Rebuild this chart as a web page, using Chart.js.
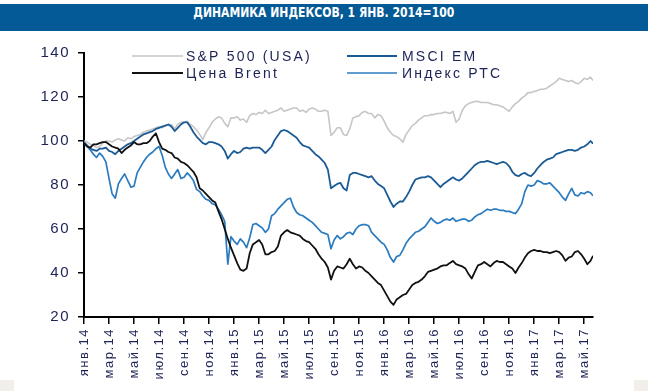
<!DOCTYPE html>
<html>
<head>
<meta charset="utf-8">
<script src="https://cdn.jsdelivr.net/npm/chart.js@4.4.1/dist/chart.umd.min.js"></script>
<style>
  body { margin: 0; background: #fff; width: 648px; height: 391px; overflow: hidden; position: relative; }
  #chart { position: absolute; left: 0; top: 0; }
  #title {
    position: absolute; left: 0; top: 4px; width: 648px; height: 27px;
    background: #035a96; color: #fff; text-align: center; line-height: 27px;
    font: bold 14px "Liberation Sans Narrow", "DejaVu Sans Condensed", sans-serif;
  }
  #title span { display: inline-block; transform: scaleX(0.86); }
  .corner { position: absolute; bottom: 0; width: 14px; height: 11px; background: #f2efeb; }
</style>
</head>
<body>
<canvas id="chart" width="648" height="391"></canvas>
<div id="title"><span>ДИНАМИКА ИНДЕКСОВ, 1 ЯНВ. 2014=100</span></div>
<div class="corner" style="left:0"></div>
<div class="corner" style="right:0"></div>
<script>
// months since 1 Jan 2014
var months = [
  0, 0.25, 0.5, 0.75, 1, 1.25, 1.5, 1.75,
  2, 2.25, 2.5, 2.75, 3, 3.25, 3.5, 3.75,
  4, 4.25, 4.5, 4.75, 5, 5.25, 5.5, 5.75,
  6, 6.25, 6.5, 6.75, 7, 7.25, 7.5, 7.75,
  8, 8.25, 8.5, 8.75, 9, 9.25, 9.5, 9.75,
  10, 10.25, 10.5, 10.75, 11, 11.25, 11.5, 11.75,
  12, 12.25, 12.5, 12.75, 13, 13.25, 13.5, 13.75,
  14, 14.25, 14.5, 14.75, 15, 15.25, 15.5, 15.75,
  16, 16.25, 16.5, 16.75, 17, 17.25, 17.5, 17.75,
  18, 18.25, 18.5, 18.75, 19, 19.25, 19.5, 19.75,
  20, 20.25, 20.5, 20.75, 21, 21.25, 21.5, 21.75,
  22, 22.25, 22.5, 22.75, 23, 23.25, 23.5, 23.75,
  24, 24.25, 24.5, 24.75, 25, 25.25, 25.5, 25.75,
  26, 26.25, 26.5, 26.75, 27, 27.25, 27.5, 27.75,
  28, 28.25, 28.5, 28.75, 29, 29.25, 29.5, 29.75,
  30, 30.25, 30.5, 30.75, 31, 31.25, 31.5, 31.75,
  32, 32.25, 32.5, 32.75, 33, 33.25, 33.5, 33.75,
  34, 34.25, 34.5, 34.75, 35, 35.25, 35.5, 35.75,
  36, 36.25, 36.5, 36.75, 37, 37.25, 37.5, 37.75,
  38, 38.25, 38.5, 38.75, 39, 39.25, 39.5, 39.75,
  40, 40.25, 40.5, 40.7];

var sp500 = [
  100, 99.5, 98.5, 98, 97, 97.5, 99, 100,
  100, 99.5, 100.5, 101, 100.5, 100, 101.5, 101,
  102, 102.5, 103, 104, 104.5, 105, 105.5, 106,
  106.5, 106, 107, 107.5, 107.5, 105.5, 107.5, 108.5,
  108.5, 109, 107.5, 106.5, 105, 103, 100.7, 104,
  106, 108.5, 110, 111, 110.5, 108, 106.5, 110.5,
  110.5, 111, 109.5, 110, 108.5, 111.5, 112.5, 112,
  113, 112.5, 114, 112.5, 113, 113.5, 114, 115,
  113.5, 114, 114.5, 115, 115, 113.5, 114, 113,
  114.5, 115, 114.5, 113.5, 113.5, 114, 113.5, 102.5,
  104, 106, 106, 103, 102.5, 105.5, 110.5, 111,
  111.5, 113, 113.5, 112.5, 112.5, 110.5, 112, 111.5,
  109, 106, 104, 102.5, 102, 101, 99.5, 103,
  105, 107, 108, 109.5, 110.5, 111.5, 111.5, 112,
  112, 112.5, 112.5, 113, 113, 112.5, 113.5, 108.5,
  110, 114, 116, 117, 117.5, 118, 118, 117.5,
  117.5, 117.5, 117, 116.5, 116.5, 116, 115.5, 114.5,
  113.5, 115.5, 117, 118, 119.5, 120.5, 122, 122,
  122.5, 123, 123.5, 123.5, 124, 125, 126, 127,
  128.5, 128, 127.5, 127, 127.5, 126.5, 126, 127,
  128.5, 128, 129, 127.5];

var msciEm = [
  99.5, 98, 96.5, 96, 95.5, 96.5, 96.5, 97,
  95.5, 95, 94, 95.5, 96.5, 97.5, 98.5, 99,
  100, 101, 102, 103, 103.5, 104, 104.5, 105.5,
  106, 106.5, 107, 107.5, 106.5, 104.5, 106, 107.5,
  108.5, 108.5, 106.5, 104, 102, 100.5, 99, 98.5,
  99.5, 99.5, 99, 98.5, 97.5, 95.5, 92, 94,
  95.5, 94.5, 95, 96.5, 97, 96.5, 97, 97,
  97, 96, 94.5, 96, 97.5, 100.5, 102.5, 104.5,
  105, 104.5, 103.5, 102.5, 101.5, 99.5, 98, 97.5,
  97, 95.5, 94, 93, 91.5, 90, 87, 78.5,
  79.5, 80.5, 81, 78.5, 77.5, 84.5, 85.5, 85.5,
  85, 84.5, 84, 83.5, 84, 82, 80.5, 79.5,
  78.5, 75.5, 72.5, 70, 71.5, 72.5, 72.5, 74.5,
  77, 80, 82.5, 83, 83.5, 83.5, 84, 83.5,
  82, 80.5, 79, 80.5, 81.5, 82.5, 83.5, 82.5,
  82, 83, 84.5, 86, 87.5, 89, 90, 90.5,
  90.5, 91, 90.5, 90, 89.5, 90, 90.5, 90,
  88.5, 86, 84.5, 84, 85, 85.5, 84.5, 84,
  85.5, 87.5, 89, 90.5, 91.5, 92, 92.5, 94,
  94.5, 95, 95.5, 96, 96, 95.5, 96, 97,
  97.5, 98.5, 100, 98.8];

var brent = [
  99, 97.5, 97, 98.5, 98.5, 99, 99.5, 99.5,
  98.5, 97.5, 97, 96.5, 94.5, 96, 97, 98,
  99.5, 98.5, 98.5, 99, 99, 100, 102, 103.5,
  99.5, 96.5, 96, 95, 94.5, 92.5, 92, 90.5,
  90, 89, 87.5, 86, 83.5, 78.5, 77.5, 76,
  74.5, 73, 72, 68, 64.5, 60, 55.5, 51.5,
  48, 44.5, 41.5, 41, 42, 49, 53, 54,
  55, 53, 48.5, 48.5, 49.5, 50, 52, 57,
  58.5, 59.5, 58.5, 58, 57.5, 57, 55.5, 54.5,
  54, 52.5, 51, 48.5, 46.5, 45, 42.5, 37,
  41, 43, 42.5, 42, 44, 46.5, 44, 42,
  43, 42.5, 41, 40, 38.5, 37, 35.5, 34.5,
  32, 29.5, 27, 25.5, 28, 29, 30, 30.5,
  32.5, 34.5, 35.5, 36, 37, 38.5, 40.5, 41,
  41.5, 42, 43, 43.5, 43.5, 44.5, 45.5, 44,
  43.5, 43, 42, 39.5, 37.5, 40.5, 43.5, 44,
  45, 44, 43, 44.5, 45.5, 45, 45, 44,
  43, 42, 40, 42.5, 44.5, 47, 49, 50,
  50.5, 50, 50, 49.5, 49.5, 49, 49.5, 50,
  49.5, 48, 45.5, 47, 47.5, 49.5, 50, 48.5,
  46.5, 44, 45.5, 47.8];

var rts = [
  99, 97.5, 96, 94, 92.5, 94.5, 93, 90.5,
  83, 76, 74, 80.5, 83, 85, 82, 79,
  79.5, 85.5, 88, 90.5, 92.5, 94, 95, 96.5,
  97.5, 93.5, 88, 85, 83, 85, 87, 83,
  83.5, 85.5, 84, 82, 78, 77, 75, 73.5,
  73, 71.5, 71, 69, 66.5, 63.5, 44, 56.5,
  54.5, 53, 55.5, 54, 51.5, 56, 62, 62.5,
  61.5, 60.5, 58.5, 60, 66, 67, 69, 70.5,
  72, 73.5, 74, 70, 67.5, 66.5, 66, 65,
  64, 63, 61.5, 60, 58.5, 58, 57.5, 51,
  55, 57, 55.5, 56.5, 58, 58.5, 57.5, 60,
  61.5, 62, 62, 61.5, 58.5, 57, 55.5, 54,
  53, 50.5, 47, 45, 47.5, 48, 50.5, 53.5,
  55.5, 57, 58.5, 59, 60, 61, 63, 65,
  63.5, 62.5, 63, 64, 64.5, 64, 65, 63.5,
  64, 64.5, 64.5, 63.5, 64, 65.5, 66.5, 67,
  68, 69, 68.5, 69, 69, 68.5, 68.5, 68,
  68, 67.5, 67, 69, 71.5, 77, 80, 79.5,
  80, 82, 81.5, 80.5, 80.5, 81, 79.5, 78,
  76.5, 74.5, 73, 76, 78.5, 75.5, 75, 76.5,
  76, 77, 76.5, 75.1];

var tickMonths = [0, 2, 4, 6, 8, 10, 12, 14, 16, 18, 20, 22, 24, 26, 28, 30, 32, 34, 36, 38, 40];
var tickLabels = ['янв.14', 'мар.14', 'май.14', 'июл.14', 'сен.14', 'ноя.14',
  'янв.15', 'мар.15', 'май.15', 'июл.15', 'сен.15', 'ноя.15',
  'янв.16', 'мар.16', 'май.16', 'июл.16', 'сен.16', 'ноя.16',
  'янв.17', 'мар.17', 'май.17'];

var FONT = '"Liberation Sans", Arial, sans-serif';
var TEXT = '#1d2257';

function pts(values) {
  return months.map(function (m, i) { return { x: m, y: values[i] }; });
}

// legend slots: [line start, line end, text x, y] in pixels from chart area
var legendSlots = [
  [48, 99, 102, 3],
  [263, 313, 318, 3],
  [48, 99, 102, 20],
  [263, 313, 318, 20]
];

var spacing = {
  id: 'spacing',
  beforeUpdate: function (chart) { chart.ctx.letterSpacing = '1.5px'; },
  beforeDraw: function (chart) { chart.ctx.letterSpacing = '1.5px'; }
};

var legendPlugin = {
  id: 'ownLegend',
  afterDraw: function (chart) {
    var ctx = chart.ctx, a = chart.chartArea;
    ctx.save();
    ctx.font = '14px ' + FONT;
    ctx.letterSpacing = '2.2px';
    ctx.textBaseline = 'middle';
    ctx.textAlign = 'left';
    chart.data.datasets.forEach(function (ds, i) {
      var s = legendSlots[i];
      var y = a.top + s[3];
      ctx.strokeStyle = ds.borderColor;
      ctx.lineWidth = ds.borderWidth;
      ctx.beginPath();
      ctx.moveTo(a.left + s[0], y);
      ctx.lineTo(a.left + s[1], y);
      ctx.stroke();
      ctx.fillStyle = TEXT;
      ctx.fillText(ds.label, a.left + s[2], y + 1);
    });
    ctx.restore();
  }
};

var ctx = document.getElementById('chart').getContext('2d');
new Chart(ctx, {
  type: 'line',
  data: {
    datasets: [
      { label: 'S&P 500 (USA)', data: pts(sp500), borderColor: '#c6c6c6', borderWidth: 1.6, order: 4 },
      { label: 'MSCI EM', data: pts(msciEm), borderColor: '#1b5b95', borderWidth: 1.8, order: 3 },
      { label: 'Цена Brent', data: pts(brent), borderColor: '#111111', borderWidth: 1.8, order: 1 },
      { label: 'Индекс РТС', data: pts(rts), borderColor: '#2a7bbf', borderWidth: 1.7, order: 2 }
    ]
  },
  options: {
    responsive: false,
    animation: false,
    events: [],
    elements: { point: { radius: 0 }, line: { tension: 0, borderJoinStyle: 'round' } },
    layout: { padding: { left: 0, top: 53, right: 55, bottom: 0 } },
    plugins: { legend: { display: false }, tooltip: { enabled: false }, title: { display: false } },
    scales: {
      x: {
        type: 'linear',
        min: 0,
        max: 40.7,
        afterBuildTicks: function (s) { s.ticks = tickMonths.map(function (v) { return { value: v }; }); },
        afterFit: function (s) { s.height = 74; },
        ticks: {
          autoSkip: false, maxRotation: 90, minRotation: 90, padding: 4,
          color: TEXT, font: { family: FONT, size: 13 },
          callback: function (v, i) { return tickLabels[i]; }
        },
        grid: { drawOnChartArea: false, drawTicks: true, tickLength: 7, tickColor: '#000', lineWidth: 1.5 },
        border: { display: true, color: '#000', width: 2 }
      },
      y: {
        min: 20,
        max: 140,
        afterFit: function (s) { s.width = 84; },
        ticks: { stepSize: 20, padding: 8, color: TEXT, font: { family: FONT, size: 15 } },
        grid: { drawOnChartArea: false, drawTicks: true, tickLength: 6, tickColor: '#000', lineWidth: 1.5 },
        border: { display: true, color: '#000', width: 2 }
      }
    }
  },
  plugins: [spacing, legendPlugin]
});
</script>
</body>
</html>
